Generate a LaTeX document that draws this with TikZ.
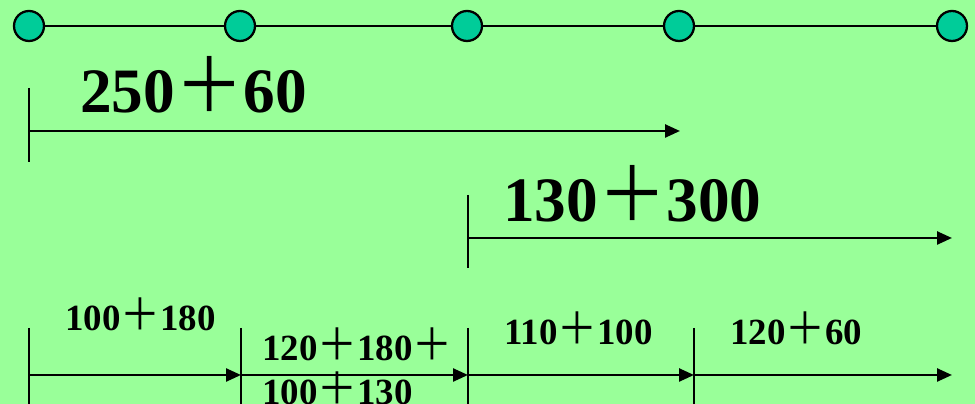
\documentclass[tikz,border=0pt]{standalone}
\usepackage{fontspec}
\setmainfont{Liberation Serif}
\newfontfamily\cjk{Noto Sans CJK SC}
\usetikzlibrary{arrows.meta}
\definecolor{bggreen}{RGB}{153,255,153}
\definecolor{stopgreen}{RGB}{0,204,153}
\newcommand{\pl}{\scalebox{1.08}[1.2]{\mdseries\cjk ＋}}
\tikzset{
stopdot/.style={circle,draw,fill=stopgreen,line width=1.3pt,minimum size=0.6cm,inner sep=0pt},
lenarrow/.style={line width=1.4pt,-{Triangle[length=0.3cm,width=0.26cm]}},
endbar/.style={line width=1.4pt},
bigsum/.style={font=\bfseries\fontsize{36}{40}\selectfont,inner sep=0pt,anchor=base west},
smallsum/.style={font=\bfseries\fontsize{21}{24}\selectfont,inner sep=0pt,anchor=base west}
}
\begin{document}
\begin{tikzpicture}[x=0.02cm,y=-0.02cm]
\useasboundingbox (0,0) rectangle (975,404);
\fill[bggreen] (0,0) rectangle (975,404);
% stops on the line
\foreach \n/\x in {1/29,2/240,3/467,4/679,5/952}{
\node[stopdot] (c\n) at (\x,26) {};}
\foreach \a/\b in {1/2,2/3,3/4,4/5}{\draw[line width=1.3pt] (c\a) -- (c\b);}
% two long spans
\coordinate (a0) at (29,131); \coordinate (a1) at (680,131);
\draw[endbar] (29,88) -- (29,162);
\draw[lenarrow] (a0) -- (a1);
\node[bigsum] (s1) at (80,113) {250\pl60};
\coordinate (b0) at (468,238); \coordinate (b1) at (952,238);
\draw[endbar] (468,195) -- (468,268);
\draw[lenarrow] (b0) -- (b1);
\node[bigsum] (s2) at (503,222) {130\pl300};
% short spans
\foreach \n/\x in {1/29,2/241,3/468,4/694,5/952}{
\coordinate (d\n) at (\x,375);}
\foreach \x in {29,241,468,694}{\draw[endbar] (\x,328) -- (\x,404);}
\foreach \a/\b in {1/2,2/3,3/4,4/5}{\draw[lenarrow] (d\a) -- (d\b);}
\node[smallsum] (t1) at (65,331) {100\pl180};
\node[smallsum] (t2) at (262,361) {120\pl180\pl};
\node[smallsum] (t3) at (262,405) {100\pl130};
\node[smallsum] (t4) at (504,345) {110\pl100};
\node[smallsum] (t5) at (730,345) {120\pl60};
\end{tikzpicture}
\end{document}
